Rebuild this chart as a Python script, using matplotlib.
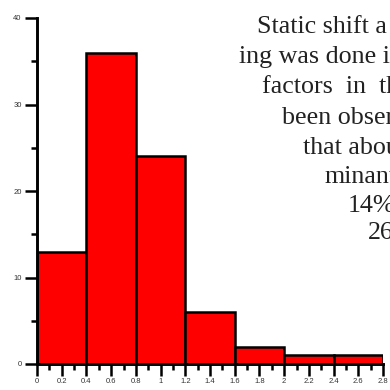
import matplotlib
matplotlib.use('Agg')
import matplotlib.pyplot as plt
from matplotlib.ticker import MultipleLocator, FuncFormatter

# Histogram of static shift factors
bin_edges = [0, 0.4, 0.8, 1.2, 1.6, 2.0, 2.4, 2.8]
counts = [13, 36, 24, 6, 2, 1, 1]

# Paragraph fragments running beside the plot
text_lines = ["Static shift a", "ing was done i", "factors  in  th", "been obser",
              "that abou", "minant", "14%", "26"]
text_x = [257, 239, 262, 282, 303, 325, 348, 368]
text_y = [33, 63, 93, 124, 154, 183, 212, 239]

W = H = 390
fig = plt.figure(figsize=(W / 100, H / 100), dpi=100)
ax = fig.add_axes([37 / W, 1 - 364 / H, (383 - 37) / W, (364 - 18) / H])

widths = [b - a for a, b in zip(bin_edges[:-1], bin_edges[1:])]
ax.bar(bin_edges[:-1], counts, width=widths, align='edge',
       color='#ff0000', edgecolor='black', linewidth=1.8, zorder=2)

ax.set_xlim(0, 2.8)
ax.set_ylim(0, 40)

for side in ['top', 'right']:
    ax.spines[side].set_visible(False)
for side in ['left', 'bottom']:
    ax.spines[side].set_linewidth(2.1)
    ax.spines[side].set_zorder(3)

ax.xaxis.set_major_locator(MultipleLocator(0.2))
ax.xaxis.set_minor_locator(MultipleLocator(0.1))
ax.yaxis.set_major_locator(MultipleLocator(10))
ax.yaxis.set_minor_locator(MultipleLocator(5))
ax.xaxis.set_major_formatter(FuncFormatter(lambda v, p: f'{v:.1f}'.rstrip('0').rstrip('.')))

ax.tick_params(axis='both', which='major', width=1.8, length=8.5, labelsize=5.5,
               labelcolor='#333333', direction='out')
ax.tick_params(axis='both', which='minor', width=1.8, length=4.5, direction='out')
ax.tick_params(axis='x', which='major', pad=1.5)
ax.tick_params(axis='y', which='major', pad=2.5)
for lab in ax.get_xticklabels() + ax.get_yticklabels():
    lab.set_family('Liberation Sans')

for s, x, y in zip(text_lines, text_x, text_y):
    fig.text(x / W, 1 - y / H, s, ha='left', va='baseline',
             family='Liberation Serif', fontsize=18.7, color='#222222')

fig.savefig('out.png', dpi=100)
